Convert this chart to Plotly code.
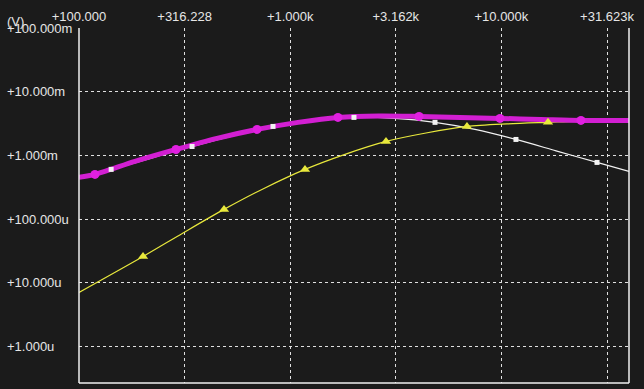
import numpy as np
import plotly.graph_objects as go

# ---- data ----
# magenta trace (thick line)
mag_f = [100, 119, 184, 288, 450, 697, 1089, 1683, 2630, 4074, 6368, 9844, 15400, 23800, 40200]
mag_v = [0.452e-3, 0.503e-3, 0.805e-3, 1.24e-3, 1.85e-3, 2.56e-3, 3.30e-3, 3.95e-3, 4.17e-3,
         4.09e-3, 3.95e-3, 3.81e-3, 3.67e-3, 3.54e-3, 3.54e-3]
mag_mk_f = [119, 288, 697, 1683, 4074, 9844, 23800]
mag_mk_v = [0.503e-3, 1.24e-3, 2.56e-3, 3.95e-3, 4.09e-3, 3.81e-3, 3.54e-3]

# white trace
wht_f = [100, 142, 343, 829, 2004, 3133, 4849, 7500, 11720, 18140, 28360, 40200]
wht_v = [0.468e-3, 0.603e-3, 1.38e-3, 2.85e-3, 3.95e-3, 3.81e-3, 3.30e-3, 2.56e-3, 1.78e-3,
         1.18e-3, 0.776e-3, 0.561e-3]
wht_mk_f = [142, 343, 829, 2004, 4849, 11720, 28360]
wht_mk_v = [0.603e-3, 1.38e-3, 2.85e-3, 3.95e-3, 3.30e-3, 1.78e-3, 0.776e-3]

# yellow trace
yel_f = [100, 201, 311, 486, 751, 1175, 1818, 2842, 4395, 6871, 10630, 16620, 26280, 40200]
yel_v = [7.06e-6, 25.9e-6, 60.7e-6, 142e-6, 303e-6, 603e-6, 1.04e-3, 1.66e-3, 2.25e-3,
         2.85e-3, 3.12e-3, 3.30e-3, 3.48e-3, 3.52e-3]
yel_mk_f = [201, 486, 1175, 2842, 6871, 16620]
yel_mk_v = [25.9e-6, 142e-6, 603e-6, 1.66e-3, 2.85e-3, 3.30e-3]

# axis ticks
x_tickvals = [100, 316.228, 1000, 3162.28, 10000, 31623]
x_ticktext = ["+100.000", "+316.228", "+1.000k", "+3.162k", "+10.000k", "+31.623k"]
y_tickvals = [1e-1, 1e-2, 1e-3, 1e-4, 1e-5, 1e-6]
y_ticktext = ["+100.000m", "+10.000m", "+1.000m", "+100.000u", "+10.000u", "+1.000u"]

# ---- figure ----
W, H = 644, 389
L, R, T, B = 79, 15, 28, 6
BG = "#1b1b1b"
TXT = "#e6e6e6"
FONT = "Liberation Sans, Arial, sans-serif"

fig = go.Figure()
fig.add_trace(go.Scatter(x=wht_f, y=wht_v, mode="lines",
                         line=dict(color="#f2f2f2", width=1.2, shape="spline", smoothing=0.8),
                         hoverinfo="skip", showlegend=False))
fig.add_trace(go.Scatter(x=yel_f, y=yel_v, mode="lines",
                         line=dict(color="#e8e83c", width=1.2, shape="spline", smoothing=0.8),
                         hoverinfo="skip", showlegend=False))
fig.add_trace(go.Scatter(x=mag_f, y=mag_v, mode="lines",
                         line=dict(color="#d21fd2", width=5, shape="spline", smoothing=0.8),
                         hoverinfo="skip", showlegend=False))
fig.add_trace(go.Scatter(x=mag_mk_f, y=mag_mk_v, mode="markers",
                         marker=dict(symbol="circle", size=9, color="#e020e0"),
                         hoverinfo="skip", showlegend=False))
fig.add_trace(go.Scatter(x=yel_mk_f, y=yel_mk_v, mode="markers",
                         marker=dict(symbol="triangle-up", size=9, color="#e8e83c"),
                         hoverinfo="skip", showlegend=False))
fig.add_trace(go.Scatter(x=wht_mk_f, y=wht_mk_v, mode="markers",
                         marker=dict(symbol="square", size=5, color="#f2f2f2"),
                         hoverinfo="skip", showlegend=False))

pw = W - L - R
ph = H - T - B
xr = [2.0, 2.0 + pw / 211.2]
yr = [-1.0 - ph / 63.7, -1.0]

fig.update_layout(
    width=W, height=H,
    margin=dict(l=L, r=R, t=T, b=B, pad=0),
    paper_bgcolor=BG, plot_bgcolor=BG,
    font=dict(family=FONT, size=13, color=TXT),
    xaxis=dict(type="log", range=xr, side="top", tickvals=x_tickvals, ticktext=x_ticktext,
               showgrid=True, gridcolor="#e0e0e0", griddash="3px,3px", gridwidth=1,
               zeroline=False, showline=False, ticks="", ticklabelstandoff=3,
               tickfont=dict(family=FONT, size=13, color=TXT)),
    yaxis=dict(type="log", range=yr, tickvals=y_tickvals, showticklabels=False,
               showgrid=True, gridcolor="#e0e0e0", griddash="3px,3px", gridwidth=1,
               zeroline=False, showline=False, ticks=""),
)

# left-aligned y tick labels
for v, t in zip(y_tickvals, y_ticktext):
    fig.add_annotation(x=-(L - 5) / pw, xref="paper", xanchor="left",
                       y=np.log10(v), yref="y", yanchor="middle",
                       text=t, showarrow=False,
                       font=dict(family=FONT, size=13, color=TXT))
fig.add_annotation(x=-(L - 5) / pw, xref="paper", xanchor="left",
                   y=1 + 7 / ph, yref="paper", yanchor="middle",
                   text="(V)", showarrow=False,
                   font=dict(family=FONT, size=13, color=TXT))

# solid border: left, bottom, right
for x0, y0, x1, y1 in [(0, 0, 0, 1), (0, 0, 1, 0), (1, 0, 1, 1)]:
    fig.add_shape(type="line", xref="paper", yref="paper", x0=x0, y0=y0, x1=x1, y1=y1,
                  line=dict(color="#f0f0f0", width=1.5))

fig.write_html("out.html")
